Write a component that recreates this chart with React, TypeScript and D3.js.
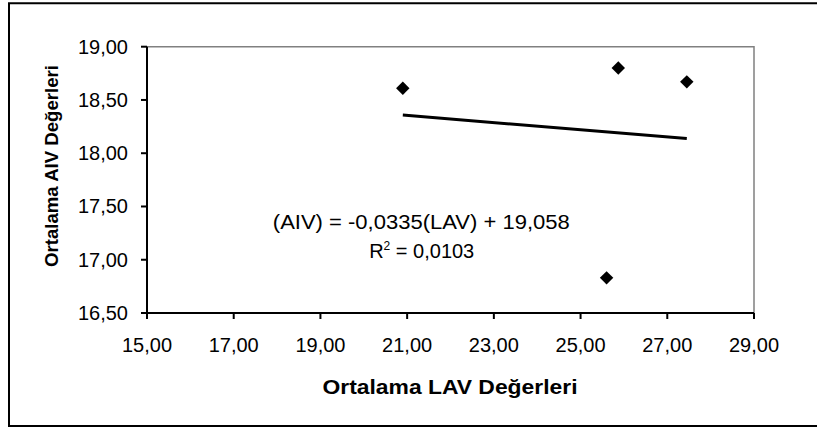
import React from "react";
import * as d3 from "d3";

const lavValues = [20.9, 25.87, 27.45, 25.6];
const aivValues = [18.61, 18.8, 18.67, 16.83];
const xTicks = [15, 17, 19, 21, 23, 25, 27, 29];
const yTicks = [16.5, 17, 17.5, 18, 18.5, 19];
const slope = -0.0335;
const intercept = 19.058;
const equationText = "(AIV) = -0,0335(LAV) + 19,058";
const r2Text = " = 0,0103";
const xTitle = "Ortalama LAV Değerleri";
const yTitle = "Ortalama AIV Değerleri";

const W = 817;
const H = 428;
const FONT = "'Liberation Sans', Arial, sans-serif";

export default function App() {
  const left = 147, right = 754, top = 46.7, bottom = 313;
  const x = d3.scaleLinear().domain([15, 29]).range([left, right]);
  const y = d3.scaleLinear().domain([16.5, 19]).range([bottom, top]);
  const fmt = (v: number) => v.toFixed(2).replace(".", ",");
  const xMin = d3.min(lavValues) as number;
  const xMax = d3.max(lavValues) as number;
  const trend = d3.line<number>().x((d) => x(d)).y((d) => y(intercept + slope * d));
  const diamond = d3.symbol().type(d3.symbolDiamond2 || d3.symbolSquare).size(100);
  const diamondPath = d3.symbol().type(d3.symbolSquare).size(90)();

  return (
    <svg width={W} height={H} style={{ position: "absolute", left: 0, top: 0, background: "#fff" }} fontFamily={FONT}>
      <rect x={0} y={0} width={W} height={H} fill="#fff" />
      {/* outer frame */}
      <path d={`M${W + 5},3.3 H9 V426 H${W + 5}`} fill="none" stroke="#000" strokeWidth={2} />
      {/* plot frame top/right */}
      <path d={`M${left},${top} H${right} V${bottom}`} fill="none" stroke="#808080" strokeWidth={1.5} />
      {/* axes */}
      <line x1={left} x2={left} y1={top} y2={bottom} stroke="#000" strokeWidth={2} />
      <line x1={left} x2={right} y1={bottom} y2={bottom} stroke="#000" strokeWidth={2} />
      {yTicks.map((t) => (
        <g key={"y" + t}>
          <line x1={left - 6} x2={left} y1={y(t)} y2={y(t)} stroke="#000" strokeWidth={2} />
          <text x={128} y={y(t) + 7} textAnchor="end" fontSize={20} fill="#000">{fmt(t)}</text>
        </g>
      ))}
      {xTicks.map((t) => (
        <g key={"x" + t}>
          <line x1={x(t)} x2={x(t)} y1={bottom} y2={bottom + 6} stroke="#000" strokeWidth={2} />
          <text x={x(t)} y={351.5} textAnchor="middle" fontSize={20} fill="#000">{fmt(t)}</text>
        </g>
      ))}
      {/* trend line */}
      <path d={trend([xMin, xMax]) || ""} fill="none" stroke="#000" strokeWidth={3} />
      {/* points */}
      {lavValues.map((v, i) => (
        <path key={"p" + i} d={diamondPath || ""} transform={`translate(${x(v)},${y(aivValues[i])}) rotate(45)`} fill="#000" />
      ))}
      {/* equation */}
      <text x={421.3} y={228.5} textAnchor="middle" fontSize={20} fill="#000" textLength={297} lengthAdjust="spacingAndGlyphs">{equationText}</text>
      <text x={421.7} y={258.3} textAnchor="middle" fontSize={20} fill="#000">
        R<tspan fontSize={12} dy={-8}>2</tspan><tspan dy={8}>{r2Text}</tspan>
      </text>
      {/* axis titles */}
      <text x={450} y={394} textAnchor="middle" fontSize={20} fontWeight="bold" fill="#000" textLength={255} lengthAdjust="spacingAndGlyphs">{xTitle}</text>
      <text transform={`translate(58.3,166) rotate(-90)`} textAnchor="middle" fontSize={19} fontWeight="bold" fill="#000" textLength={202} lengthAdjust="spacingAndGlyphs">{yTitle}</text>
    </svg>
  );
}
